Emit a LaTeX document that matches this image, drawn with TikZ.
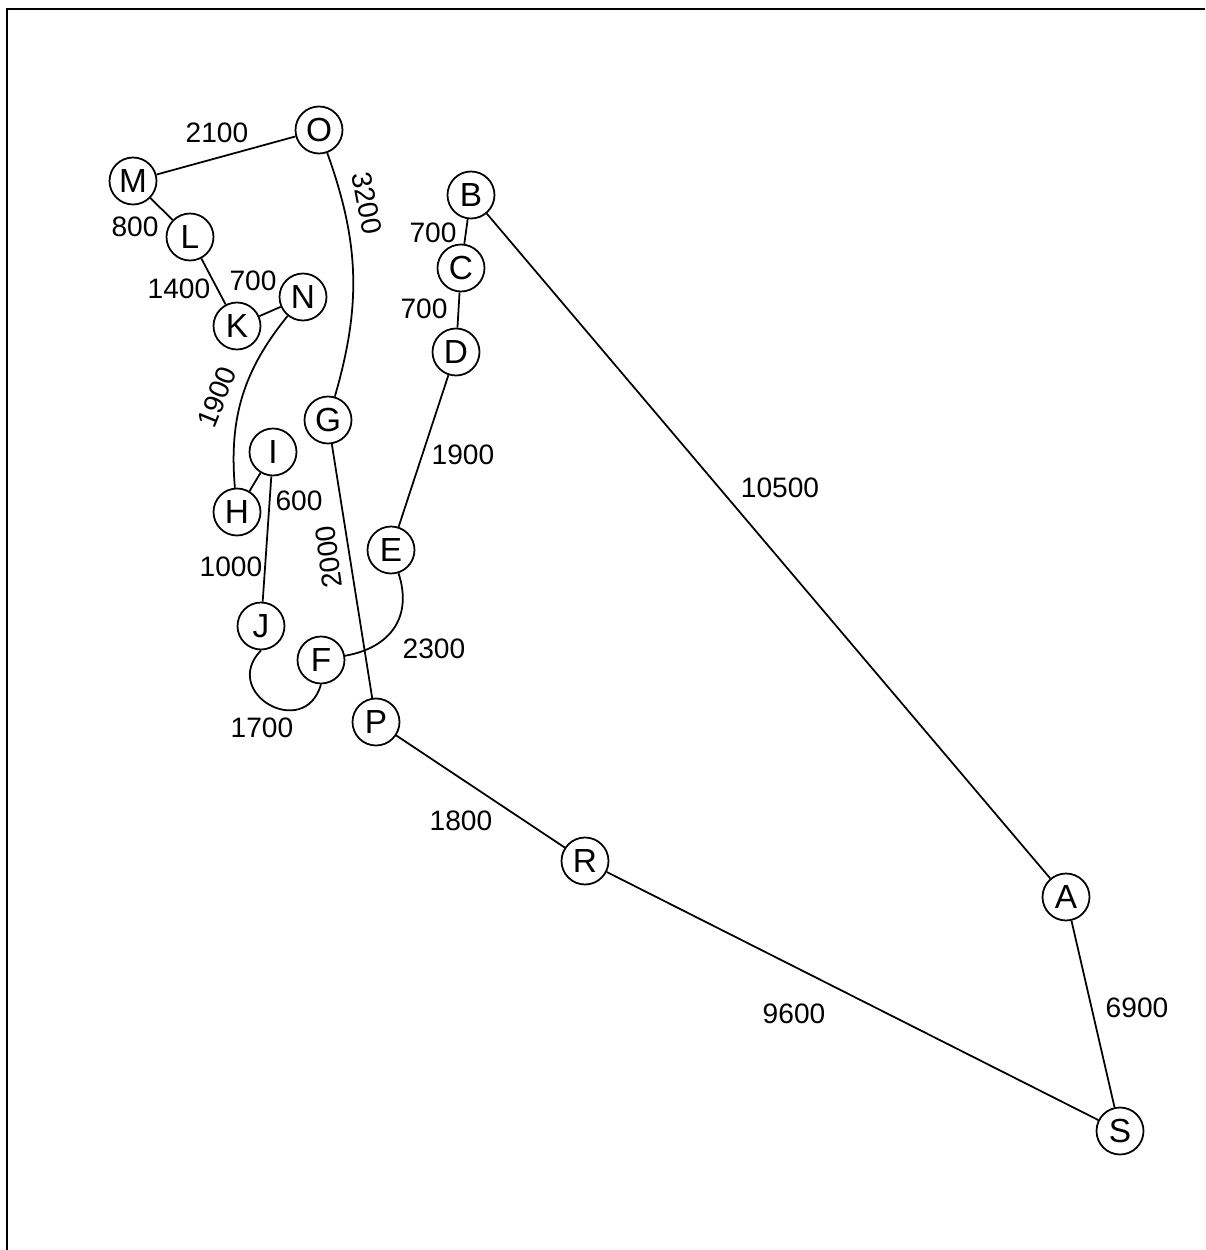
\documentclass[tikz,border=0pt]{standalone}
\usepackage{fontspec}
\setmainfont{Liberation Sans}
\begin{document}
\begin{tikzpicture}[x=0.02cm,y=0.02cm,line width=1pt,
    station/.style={draw,circle,minimum size=0.94cm,inner sep=0pt,font=\fontsize{19}{22}\selectfont},
    dist/.style={font=\fontsize{16}{19}\selectfont,inner sep=1pt}]
    \useasboundingbox (0,0) rectangle (1205,-1250);
    \draw (7,-1250) -- (7,-9) -- (1205,-9);

    \node[station] (O) at (319,-130) {O};
    \node[station] (M) at (133,-181) {M};
    \node[station] (L) at (190,-237) {L};
    \node[station] (N) at (303,-297) {N};
    \node[station] (K) at (237,-326) {K};
    \node[station] (G) at (328,-420) {G};
    \node[station] (I) at (273,-452) {I};
    \node[station] (H) at (237,-512) {H};
    \node[station] (E) at (391,-550) {E};
    \node[station] (J) at (261,-626) {J};
    \node[station] (F) at (321,-660) {F};
    \node[station] (P) at (376,-722) {P};
    \node[station] (B) at (471,-195) {B};
    \node[station] (C) at (461,-268) {C};
    \node[station] (D) at (456,-352) {D};
    \node[station] (R) at (585,-861) {R};
    \node[station] (A) at (1066,-897) {A};
    \node[station] (S) at (1120,-1131) {S};

    \draw (M) -- (O);
    \draw (M) -- (L);
    \draw (L) -- (K);
    \draw (K) -- (N);
    \draw (O) to[bend left=18] (G);
    \draw (N) to[bend right=22] (H);
    \draw (H) -- (I);
    \draw (I) -- (J);
    \draw (J.south) to[out=-134,in=-106,looseness=2.2] (F.south);
    \draw (E) to[out=-72,in=10,looseness=1.2] (F);
    \draw (G) -- (P);
    \draw (P) -- (R);
    \draw (R) -- (S);
    \draw (S) -- (A);
    \draw (A) -- (B);
    \draw (B) -- (C);
    \draw (C) -- (D);
    \draw (D) -- (E);

    \node[dist] (dMO) at (217,-133) {2100};
    \node[dist,rotate=-79] (dOG) at (367,-203) {3200};
    \node[dist] (dML) at (135,-227) {800};
    \node[dist] (dLK) at (179,-289) {1400};
    \node[dist] (dKN) at (253,-281) {700};
    \node[dist,rotate=68] (dNH) at (217,-397) {1900};
    \node[dist] (dHI) at (299,-501) {600};
    \node[dist] (dIJ) at (231,-567) {1000};
    \node[dist,rotate=98] (dGP) at (329,-557) {2000};
    \node[dist] (dBC) at (433,-233) {700};
    \node[dist] (dCD) at (424,-309) {700};
    \node[dist] (dDE) at (463,-455) {1900};
    \node[dist] (dAB) at (780,-488) {10500};
    \node[dist] (dEF) at (434,-649) {2300};
    \node[dist] (dJF) at (262,-728) {1700};
    \node[dist] (dPR) at (461,-821) {1800};
    \node[dist] (dRS) at (794,-1014) {9600};
    \node[dist] (dSA) at (1137,-1008) {6900};
\end{tikzpicture}
\end{document}
